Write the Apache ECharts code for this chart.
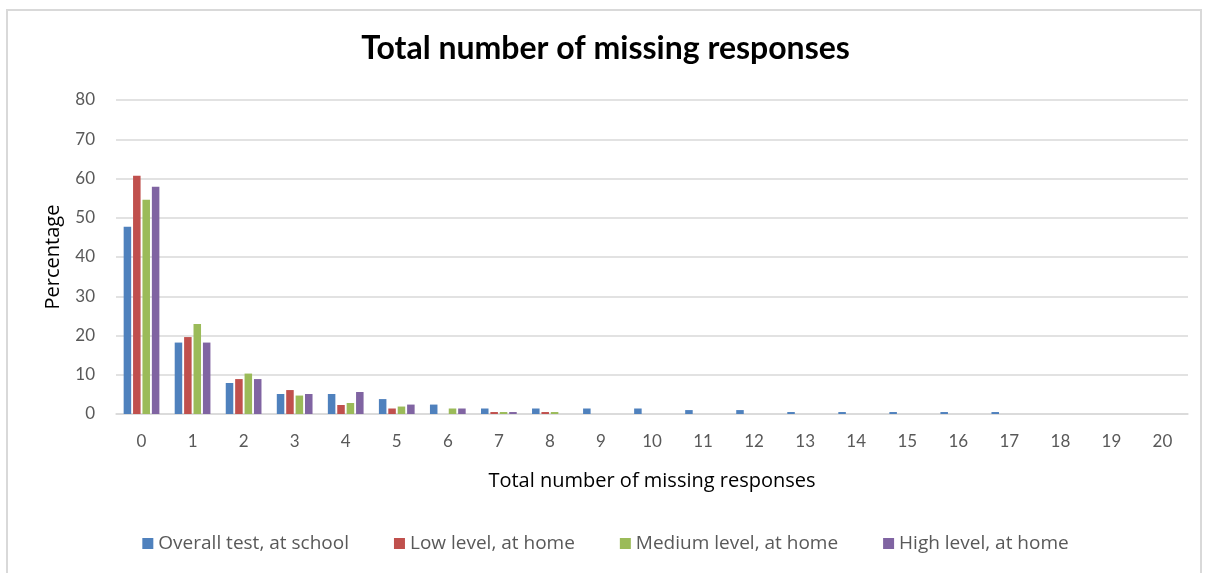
<!DOCTYPE html>
<html>
<head>
<meta charset="utf-8">
<script src="https://cdn.jsdelivr.net/npm/echarts@6/dist/echarts.min.js"></script>
<style>
  html, body { margin: 0; padding: 0; background: #fff; }
  #frame { position: absolute; left: 6px; top: 9px; width: 1196px; height: 580px; border: 2px solid #d9d9d9; box-sizing: border-box; }
  #chart { width: 1211px; height: 573px; }
</style>
</head>
<body>
<div id="frame"></div>
<div id="chart"></div>
<script>
// Number of missing responses (0..20) and share of pupils per group, in percent
const categories = ['0','1','2','3','4','5','6','7','8','9','10','11','12','13','14','15','16','17','18','19','20'];
const overallSchool = [47.7, 18.2, 7.9, 5.1, 5.1, 3.8, 2.4, 1.4, 1.4, 1.4, 1.4, 1.0, 1.0, 0.5, 0.5, 0.5, 0.5, 0.5, 0, 0, 0];
const lowHome      = [60.7, 19.6, 8.9, 6.1, 2.3, 1.4, 0, 0.5, 0.5, 0, 0, 0, 0, 0, 0, 0, 0, 0, 0, 0, 0];
const mediumHome   = [54.6, 22.9, 10.3, 4.7, 2.8, 1.9, 1.4, 0.5, 0.5, 0, 0, 0, 0, 0, 0, 0, 0, 0, 0, 0, 0];
const highHome     = [57.9, 18.2, 8.9, 5.1, 5.6, 2.4, 1.4, 0.5, 0, 0, 0, 0, 0, 0, 0, 0, 0, 0, 0, 0, 0];
const seriesNames = ['Overall test, at school', 'Low level, at home', 'Medium level, at home', 'High level, at home'];
const colors = ['#4F81BD', '#C0504D', '#9BBB59', '#8064A2'];

const font = 'Lato, "Open Sans", sans-serif';
const wideFont = '"Open Sans", Lato, sans-serif';
const chart = echarts.init(document.getElementById('chart'));

const mkSeries = (name, data) => ({
  name, type: 'bar', data,
  barGap: '25%', barCategoryGap: '30%'
});

chart.setOption({
  color: colors,
  animation: false,
  title: {
    text: 'Total number of missing responses',
    left: 'center', top: 28,
    textStyle: { fontFamily: font, fontSize: 32, fontWeight: 'bold', color: '#000' }
  },
  grid: { left: 116, right: 23, top: 100, bottom: 159 },
  xAxis: {
    type: 'category', data: categories,
    name: 'Total number of missing responses',
    nameLocation: 'middle', nameGap: 57,
    nameTextStyle: { fontFamily: wideFont, fontSize: 20, color: '#000' },
    axisLine: { lineStyle: { color: '#d9d9d9', width: 1.5 } },
    axisTick: { show: false },
    axisLabel: { fontFamily: font, fontSize: 17, color: '#595959', margin: 19 }
  },
  yAxis: {
    type: 'value', min: 0, max: 80, interval: 10,
    name: 'Percentage', nameLocation: 'middle', nameGap: 53,
    nameTextStyle: { fontFamily: wideFont, fontSize: 20, color: '#000' },
    axisLine: { show: false }, axisTick: { show: false },
    axisLabel: { fontFamily: font, fontSize: 17, color: '#595959', margin: 21 },
    splitLine: { lineStyle: { color: '#d9d9d9', width: 1.5 } }
  },
  legend: {
    data: seriesNames, bottom: 15, left: 'center',
    itemWidth: 11, itemHeight: 11, itemGap: 45, icon: 'rect',
    textStyle: { fontFamily: wideFont, fontSize: 19, color: '#595959' }
  },
  series: [
    mkSeries(seriesNames[0], overallSchool),
    mkSeries(seriesNames[1], lowHome),
    mkSeries(seriesNames[2], mediumHome),
    mkSeries(seriesNames[3], highHome)
  ]
});
</script>
</body>
</html>
